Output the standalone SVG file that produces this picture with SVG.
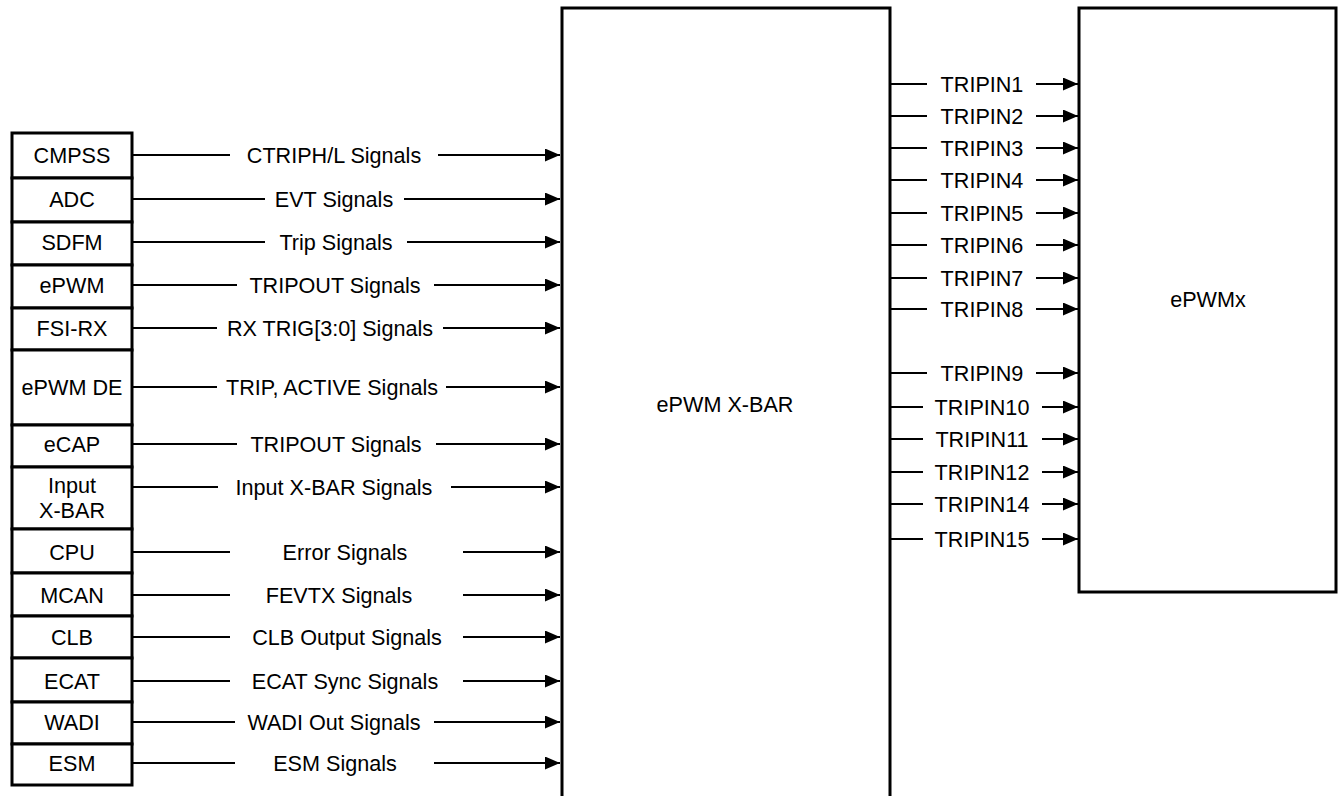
<svg xmlns="http://www.w3.org/2000/svg" width="1338" height="796" viewBox="0 0 1338 796">
<style>
.box{fill:#fff;stroke:#000;stroke-width:3}
.ln{stroke:#000;stroke-width:1.8;fill:none}
.t{font-family:"Liberation Sans",Arial,sans-serif;font-size:21.6px;fill:#000;text-anchor:middle}
</style>
<defs>
<marker id="ah" markerUnits="userSpaceOnUse" markerWidth="16" markerHeight="14" refX="15" refY="6.5" orient="auto">
<path d="M0,0 L15,6.5 L0,13 Z" fill="#000"/>
</marker>
</defs>
<rect width="1338" height="796" fill="#fff"/>
<g id="xbar"><rect class="box" x="562" y="8" width="328" height="800"/><text class="t" x="725" y="412">ePWM X-BAR</text></g>
<g id="epwmx"><rect class="box" x="1079" y="8" width="257" height="584"/><text class="t" x="1208" y="307">ePWMx</text></g>
<g id="cmpss"><rect class="box" x="12" y="133" width="120" height="45"/><text class="t" x="72" y="162.5">CMPSS</text></g>
<g id="adc"><rect class="box" x="12" y="178" width="120" height="44"/><text class="t" x="72" y="206.5">ADC</text></g>
<g id="sdfm"><rect class="box" x="12" y="222" width="120" height="43"/><text class="t" x="72" y="249.5">SDFM</text></g>
<g id="epwm"><rect class="box" x="12" y="265" width="120" height="43"/><text class="t" x="72" y="292.5">ePWM</text></g>
<g id="fsirx"><rect class="box" x="12" y="308" width="120" height="42"/><text class="t" x="72" y="335.5">FSI-RX</text></g>
<g id="epwmde"><rect class="box" x="12" y="350" width="120" height="75"/><text class="t" x="72" y="394.5">ePWM DE</text></g>
<g id="ecap"><rect class="box" x="12" y="425" width="120" height="42"/><text class="t" x="72" y="451.5">eCAP</text></g>
<g id="inputxbar"><rect class="box" x="12" y="467" width="120" height="62"/><text class="t" x="72" y="493">Input</text><text class="t" x="72" y="518">X-BAR</text></g>
<g id="cpu"><rect class="box" x="12" y="529" width="120" height="44"/><text class="t" x="72" y="559.5">CPU</text></g>
<g id="mcan"><rect class="box" x="12" y="573" width="120" height="43"/><text class="t" x="72" y="602.5">MCAN</text></g>
<g id="clb"><rect class="box" x="12" y="616" width="120" height="42"/><text class="t" x="72" y="644.5">CLB</text></g>
<g id="ecat"><rect class="box" x="12" y="658" width="120" height="44"/><text class="t" x="72" y="688.5">ECAT</text></g>
<g id="wadi"><rect class="box" x="12" y="702" width="120" height="42"/><text class="t" x="72" y="729.5">WADI</text></g>
<g id="esm"><rect class="box" x="12" y="744" width="120" height="41"/><text class="t" x="72" y="770.5">ESM</text></g>
<g id="connectors">
<path class="ln" d="M132,155H230"/><path class="ln" d="M438,155H560" marker-end="url(#ah)"/><text class="t" x="334" y="162.5">CTRIPH/L Signals</text>
<path class="ln" d="M132,199H265"/><path class="ln" d="M404,199H560" marker-end="url(#ah)"/><text class="t" x="334" y="206.5">EVT Signals</text>
<path class="ln" d="M132,242H265"/><path class="ln" d="M407,242H560" marker-end="url(#ah)"/><text class="t" x="336" y="249.5">Trip Signals</text>
<path class="ln" d="M132,285H237"/><path class="ln" d="M434,285H560" marker-end="url(#ah)"/><text class="t" x="335" y="292.5">TRIPOUT Signals</text>
<path class="ln" d="M132,328H217"/><path class="ln" d="M443,328H560" marker-end="url(#ah)"/><text class="t" x="330" y="335.5">RX TRIG[3:0] Signals</text>
<path class="ln" d="M132,387H217"/><path class="ln" d="M446,387H560" marker-end="url(#ah)"/><text class="t" x="332" y="394.5">TRIP, ACTIVE Signals</text>
<path class="ln" d="M132,444H237"/><path class="ln" d="M436,444H560" marker-end="url(#ah)"/><text class="t" x="336" y="451.5">TRIPOUT Signals</text>
<path class="ln" d="M132,487H218"/><path class="ln" d="M451,487H560" marker-end="url(#ah)"/><text class="t" x="334" y="494.5">Input X-BAR Signals</text>
<path class="ln" d="M132,552H230"/><path class="ln" d="M463,552H560" marker-end="url(#ah)"/><text class="t" x="345" y="559.5">Error Signals</text>
<path class="ln" d="M132,595H230"/><path class="ln" d="M463,595H560" marker-end="url(#ah)"/><text class="t" x="339" y="602.5">FEVTX Signals</text>
<path class="ln" d="M132,637H230"/><path class="ln" d="M463,637H560" marker-end="url(#ah)"/><text class="t" x="347" y="644.5">CLB Output Signals</text>
<path class="ln" d="M132,681H230"/><path class="ln" d="M463,681H560" marker-end="url(#ah)"/><text class="t" x="345" y="688.5">ECAT Sync Signals</text>
<path class="ln" d="M132,722H235"/><path class="ln" d="M434,722H560" marker-end="url(#ah)"/><text class="t" x="334" y="729.5">WADI Out Signals</text>
<path class="ln" d="M132,763H235"/><path class="ln" d="M434,763H560" marker-end="url(#ah)"/><text class="t" x="335" y="770.5">ESM Signals</text>
<path class="ln" d="M890,84H927"/><path class="ln" d="M1036,84H1078" marker-end="url(#ah)"/><text class="t" x="982" y="91.5">TRIPIN1</text>
<path class="ln" d="M890,116H927"/><path class="ln" d="M1036,116H1078" marker-end="url(#ah)"/><text class="t" x="982" y="123.5">TRIPIN2</text>
<path class="ln" d="M890,148H927"/><path class="ln" d="M1036,148H1078" marker-end="url(#ah)"/><text class="t" x="982" y="155.5">TRIPIN3</text>
<path class="ln" d="M890,180H927"/><path class="ln" d="M1036,180H1078" marker-end="url(#ah)"/><text class="t" x="982" y="187.5">TRIPIN4</text>
<path class="ln" d="M890,213H927"/><path class="ln" d="M1036,213H1078" marker-end="url(#ah)"/><text class="t" x="982" y="220.5">TRIPIN5</text>
<path class="ln" d="M890,245H927"/><path class="ln" d="M1036,245H1078" marker-end="url(#ah)"/><text class="t" x="982" y="252.5">TRIPIN6</text>
<path class="ln" d="M890,278H927"/><path class="ln" d="M1036,278H1078" marker-end="url(#ah)"/><text class="t" x="982" y="285.5">TRIPIN7</text>
<path class="ln" d="M890,309H927"/><path class="ln" d="M1036,309H1078" marker-end="url(#ah)"/><text class="t" x="982" y="316.5">TRIPIN8</text>
<path class="ln" d="M890,373H927"/><path class="ln" d="M1036,373H1078" marker-end="url(#ah)"/><text class="t" x="982" y="380.5">TRIPIN9</text>
<path class="ln" d="M890,407H923"/><path class="ln" d="M1042,407H1078" marker-end="url(#ah)"/><text class="t" x="982" y="414.5">TRIPIN10</text>
<path class="ln" d="M890,439H923"/><path class="ln" d="M1042,439H1078" marker-end="url(#ah)"/><text class="t" x="982" y="446.5">TRIPIN11</text>
<path class="ln" d="M890,472H923"/><path class="ln" d="M1042,472H1078" marker-end="url(#ah)"/><text class="t" x="982" y="479.5">TRIPIN12</text>
<path class="ln" d="M890,504H923"/><path class="ln" d="M1042,504H1078" marker-end="url(#ah)"/><text class="t" x="982" y="511.5">TRIPIN14</text>
<path class="ln" d="M890,539H923"/><path class="ln" d="M1042,539H1078" marker-end="url(#ah)"/><text class="t" x="982" y="546.5">TRIPIN15</text>
</g>
</svg>
